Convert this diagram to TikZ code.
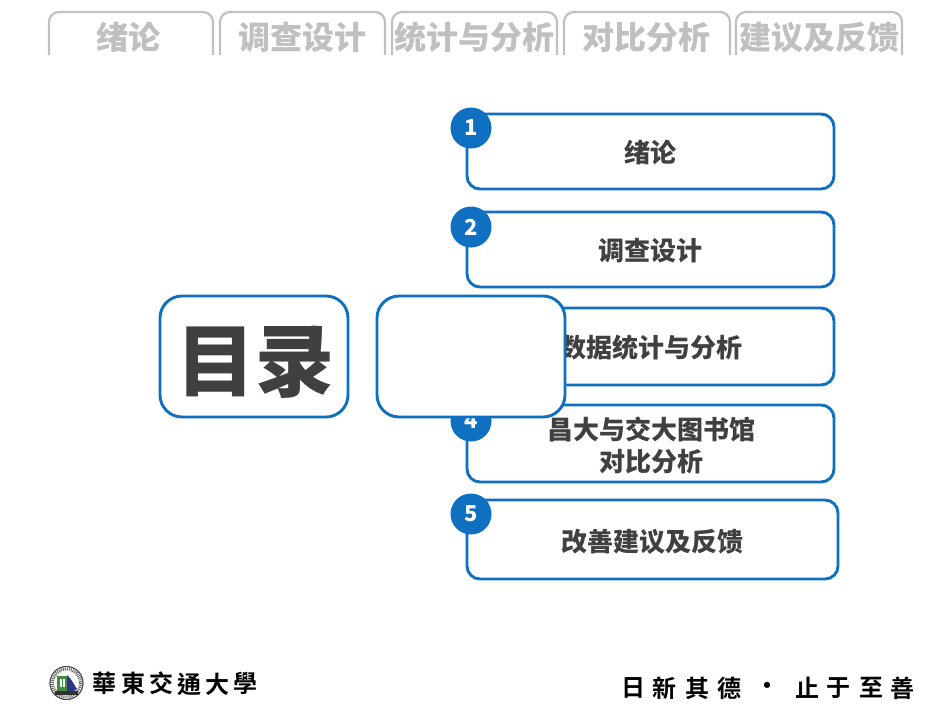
\documentclass[tikz,border=0pt]{standalone}
\usepackage{fontspec}
\setmainfont{Liberation Sans}
\newfontfamily\cjk{Noto Sans CJK SC}[BoldFont={Noto Sans CJK SC Black}]
\newfontfamily\cjktc{Noto Sans CJK TC}[BoldFont={Noto Sans CJK TC Bold}]
\definecolor{blueline}{HTML}{0F6FC0}
\definecolor{tabgray}{HTML}{C0C0C0}
\definecolor{inktext}{HTML}{404040}
\tikzset{
  x=1pt,y=-1pt,
  tabline/.style={draw=tabgray,line width=2.2pt,rounded corners=10pt},
  tabtext/.style={text=tabgray,inner sep=0pt,font=\cjk\bfseries\fontsize{32}{36}\selectfont},
  itembox/.style={draw=blueline,line width=2.9pt,fill=white,rounded corners=13pt,inner sep=0pt},
  itemtext/.style={text=inktext,inner sep=0pt,align=center,font=\cjk\bfseries\fontsize{26}{32}\selectfont},
  numdot/.style={circle,fill=blueline,minimum size=41pt,inner sep=0pt,text=white,font=\cjk\bfseries\fontsize{22}{24}\selectfont},
  coverbox/.style={draw=blueline,line width=2.9pt,fill=white,rounded corners=22pt,inner sep=0pt},
  brush/.style={text=black,inner sep=0pt,anchor=center,font=\cjktc\bfseries\fontsize{24}{28}\selectfont},
}
\begin{document}
\begin{tikzpicture}
\useasboundingbox (0,0) rectangle (950,713);
\fill[white] (0,0) rectangle (950,713);
% tabs
\draw[tabline] (49,55) -- (49,12) -- (213,12) -- (213,55);
\draw[tabline] (220,55) -- (220,12) -- (385,12) -- (385,55);
\draw[tabline] (392,55) -- (392,12) -- (557,12) -- (557,55);
\draw[tabline] (564,55) -- (564,12) -- (730,12) -- (730,55);
\draw[tabline] (736,55) -- (736,12) -- (902,12) -- (902,55);
\node[tabtext] (t1) at (128,37.5) {绪论};
\node[tabtext] (t2) at (302,37.5) {调查设计};
\node[tabtext] (t3) at (474,37.5) {统计与分析};
\node[tabtext] (t4) at (646,37.5) {对比分析};
\node[tabtext] (t5) at (819,37.5) {建议及反馈};
% item boxes
\draw[itembox] (467,114) rectangle (834,189);
\draw[itembox] (467,212) rectangle (834,287);
\draw[itembox] (467,308) rectangle (834,385);
\draw[itembox] (467,405) rectangle (834,482);
\draw[itembox] (467,500) rectangle (838,579);
\node[itemtext] (i1) at (650.5,153) {绪论};
\node[itemtext] (i2) at (650.5,251) {调查设计};
\node[itemtext] (i3) at (651,348) {数据统计与分析};
\node[itemtext] (i4) at (651,445) {昌大与交大图书馆\\对比分析};
\node[itemtext] (i5) at (652,542) {改善建议及反馈};
\node[numdot] (n1) at (471,128) {1};
\node[numdot] (n2) at (471,227) {2};
\node[numdot] (n4) at (471,421) {4};
\node[numdot] (n5) at (471,514) {5};
% title boxes
\draw[coverbox] (160,296) rectangle (348,417);
\draw[coverbox] (377,296) rectangle (565,417);
\node[text=inktext,inner sep=0pt,font=\cjk\bfseries\fontsize{79}{84}\selectfont] (title) at (255.5,362) {目录};
% emblem
\fill[white,draw=black!70,line width=1.2pt] (66.5,683) circle (16.5);
\draw[black!60,line width=3pt,dash pattern=on 1pt off 1pt] (66.5,683) circle (14);
\fill[white] (66.5,683) circle (11.5);
\fill[green!40!black!75] (57,676) rectangle (67,691);
\fill[white] (60,679) rectangle (62,687);
\fill[white] (63,679) rectangle (65,687);
\fill[blue!40!black!80] (67,691) -- (67,675) .. controls (72,679) and (74,685) .. (77,689) -- (74,691) -- cycle;
\fill[black!80] (55,691) rectangle (78,695);
% footer texts
\node[brush] (u1) at (104,683) {華};
\node[brush] (u2) at (133,683) {東};
\node[brush] (u3) at (161,683) {交};
\node[brush] (u4) at (189,684) {通};
\node[brush] (u5) at (217,684) {大};
\node[brush] (u6) at (245,683) {學};
\node[brush] (m1) at (633,688) {日};
\node[brush] (m2) at (664,688) {新};
\node[brush] (m3) at (697,688) {其};
\node[brush] (m4) at (729,688) {德};
\node[brush] (m5) at (767,688) {·};
\node[brush] (m6) at (807,688) {止};
\node[brush] (m7) at (838,688) {于};
\node[brush] (m8) at (871,688) {至};
\node[brush] (m9) at (902,688) {善};
\end{tikzpicture}
\end{document}
